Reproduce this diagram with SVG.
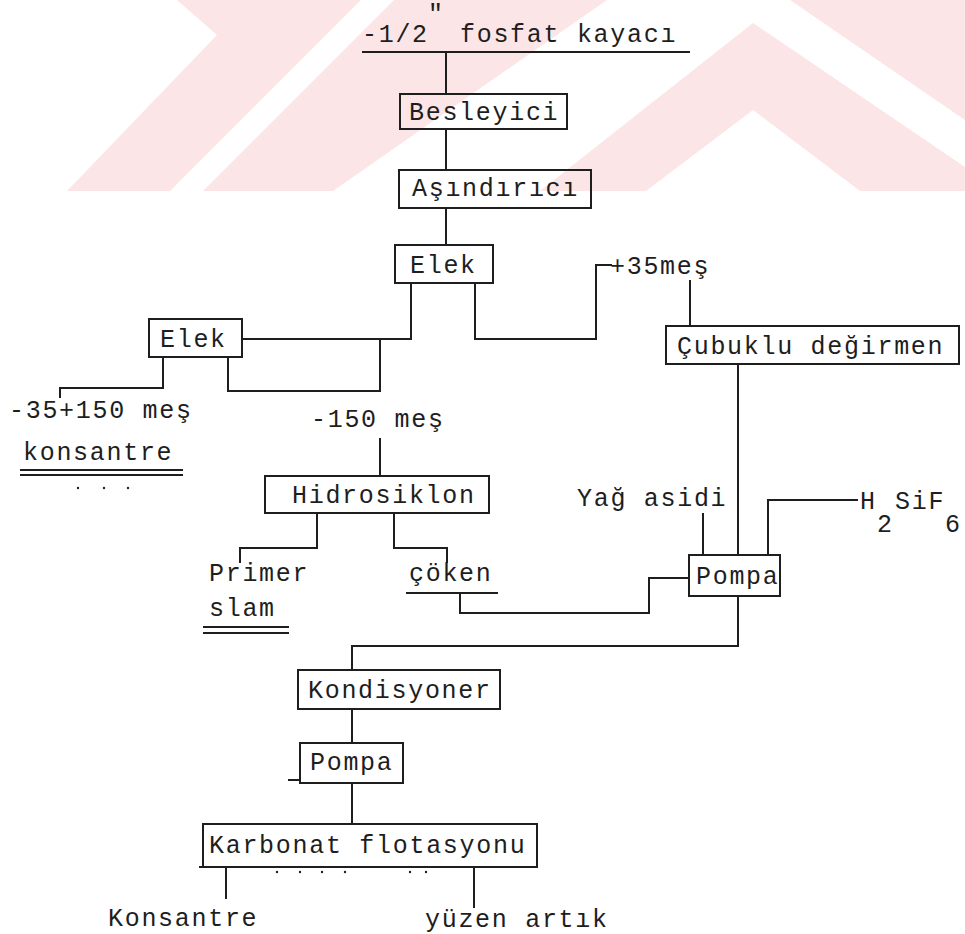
<svg xmlns="http://www.w3.org/2000/svg" width="965" height="934" viewBox="0 0 965 934">
<style>
text{font-family:"Liberation Mono","Courier New",monospace;font-size:25px;letter-spacing:1.7px;fill:#1e1e1e}
.box{fill:none;stroke:#1e1e1e;stroke-width:2}
.ln{fill:none;stroke:#1e1e1e;stroke-width:2}
.wm{fill:#fce5e7;stroke:none}
.dot{fill:#1e1e1e}
</style>
<rect width="965" height="934" fill="#ffffff"/>
<g id="watermark">
<polygon class="wm" points="177,0 361,0 170,191 67,191 217,35"/>
<polygon class="wm" points="394,0 607,0 333,191 203,191"/>
<polygon class="wm" points="753,23 965,167 965,191 860,191 753,110 646,191 540,191"/>
<polygon class="wm" points="790,0 965,0 965,120"/>
</g>
<g id="connectors">
<line class="ln" x1="362" y1="52" x2="690" y2="52"/>
<path class="ln" d="M446 52V94"/>
<path class="ln" d="M446 129V170"/>
<path class="ln" d="M446 208V245"/>
<path class="ln" d="M411 283V339H242"/>
<path class="ln" d="M380 339V391H228V357"/>
<path class="ln" d="M163 357V388H60V398"/>
<path class="ln" d="M475 283V339H596V265H612"/>
<path class="ln" d="M690 280V326"/>
<path class="ln" d="M738 364V555"/>
<path class="ln" d="M380 438V476"/>
<path class="ln" d="M317 513V548H240V563"/>
<path class="ln" d="M394 513V548H447V563"/>
<path class="ln" d="M406 593H498"/>
<path class="ln" d="M460 593V613H649V578H689"/>
<path class="ln" d="M703 513V555"/>
<path class="ln" d="M858 500H768V555"/>
<path class="ln" d="M738 596V646H352V670"/>
<path class="ln" d="M352 709V743"/>
<path class="ln" d="M288 780H300"/>
<path class="ln" d="M352 783V824"/>
<path class="ln" d="M199 867H203"/>
<path class="ln" d="M226 867V899"/>
<path class="ln" d="M474 867V908"/>
<path class="ln" d="M20 470H183M20 475H183"/>
<path class="ln" d="M203 627H289M203 633H289"/>
</g>
<g id="title">
<text x="362" y="42">-1/2</text>
<text x="428" y="22">"</text>
<text x="460" y="42">fosfat kayacı</text>
</g>
<g id="besleyici"><rect class="box" x="400" y="94" width="167" height="35"/><text x="409" y="120">Besleyici</text></g>
<g id="asindirici"><rect class="box" x="399" y="170" width="192" height="38"/><text x="412" y="196">Aşındırıcı</text></g>
<g id="elek1"><rect class="box" x="395" y="245" width="98" height="38"/><text x="410" y="273">Elek</text></g>
<g id="elek2"><rect class="box" x="149" y="319" width="93" height="38"/><text x="160" y="347">Elek</text></g>
<g id="plus35"><text x="610" y="274">+35meş</text></g>
<g id="cubuklu"><rect class="box" x="666" y="326" width="293" height="38"/><text x="677" y="354">Çubuklu değirmen</text></g>
<g id="minus35"><text x="9" y="418">-35+150 meş</text><text x="23" y="460">konsantre</text>
<circle class="dot" cx="78" cy="488" r="1.2"/><circle class="dot" cx="104" cy="488" r="1.2"/><circle class="dot" cx="128" cy="488" r="1.2"/></g>
<g id="minus150"><text x="311" y="427">-150 meş</text></g>
<g id="hidrosiklon"><rect class="box" x="265" y="476" width="224" height="37"/><text x="292" y="503">Hidrosiklon</text></g>
<g id="primer"><text x="209" y="581">Primer</text><text x="209" y="616">slam</text></g>
<g id="coken"><text x="409" y="581">çöken</text></g>
<g id="yag"><text x="577" y="506">Yağ asidi</text></g>
<g id="h2sif6"><text x="860" y="509">H</text><text x="877" y="532">2</text><text x="895" y="509">SiF</text><text x="945" y="532">6</text></g>
<g id="pompa1"><rect class="box" x="689" y="555" width="91" height="41"/><text x="696" y="584">Pompa</text></g>
<g id="kondisyoner"><rect class="box" x="298" y="670" width="202" height="39"/><text x="308" y="698">Kondisyoner</text></g>
<g id="pompa2"><rect class="box" x="300" y="743" width="103" height="40"/><text x="310" y="770">Pompa</text></g>
<g id="karbonat"><rect class="box" x="203" y="824" width="334" height="43"/><text x="209" y="853">Karbonat flotasyonu</text>
<circle class="dot" cx="277" cy="872" r="1.2"/><circle class="dot" cx="300" cy="872" r="1.2"/><circle class="dot" cx="322" cy="872" r="1.2"/><circle class="dot" cx="345" cy="872" r="1.2"/><circle class="dot" cx="410" cy="872" r="1.2"/><circle class="dot" cx="426" cy="872" r="1.2"/></g>
<g id="konsantre"><text x="108" y="926">Konsantre</text></g>
<g id="yuzen"><text x="425" y="927">yüzen artık</text></g>
</svg>
